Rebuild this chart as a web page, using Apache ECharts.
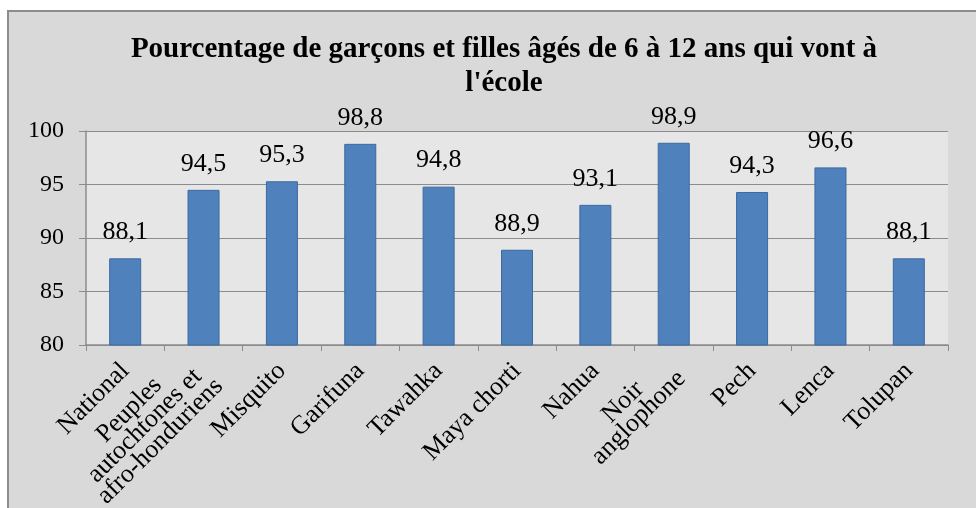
<!DOCTYPE html>
<html>
<head>
<meta charset="utf-8">
<script src="https://cdn.jsdelivr.net/npm/echarts@6/dist/echarts.min.js"></script>
<style>
  html, body { margin: 0; padding: 0; background: #fff; }
  #chart { width: 976px; height: 508px; }
</style>
</head>
<body>
<div id="chart"></div>
<script>
const categories = [
  'National',
  'Peuples\nautochtones et\nafro-honduriens',
  'Misquito',
  'Garifuna',
  'Tawahka',
  'Maya chorti',
  'Nahua',
  'Noir\nanglophone',
  'Pech',
  'Lenca',
  'Tolupan'
];
const values = [88.1, 94.5, 95.3, 98.8, 94.8, 88.9, 93.1, 98.9, 94.3, 96.6, 88.1];
const titleText = "Pourcentage de garçons et filles âgés de 6 à 12 ans qui vont à\nl'école";

const serif = '"Liberation Serif", "Times New Roman", serif';
const chart = echarts.init(document.getElementById('chart'));

chart.setOption({
  backgroundColor: '#ffffff',
  animation: false,
  graphic: [
    {
      type: 'rect',
      z: -10,
      shape: { x: 8, y: 11, width: 1000, height: 520 },
      style: { fill: '#d9d9d9', stroke: '#8c8c8c', lineWidth: 2 }
    }
  ],
  title: {
    text: titleText,
    left: 499,
    top: 28,
    textAlign: 'center',
    textStyle: {
      fontFamily: serif,
      fontWeight: 'bold',
      fontSize: 29,
      lineHeight: 34,
      color: '#000'
    }
  },
  grid: {
    left: 86, top: 131, width: 862, height: 214,
    outerBoundsMode: 'none',
    containLabel: false,
    show: true, backgroundColor: '#e6e6e6', borderWidth: 0
  },
  xAxis: {
    type: 'category',
    data: categories,
    axisLine: { lineStyle: { color: '#8c8c8c', width: 1.5 } },
    axisTick: { show: true, alignWithLabel: false, length: 6, lineStyle: { color: '#8c8c8c' } },
    axisLabel: {
      interval: 0,
      rotate: 45,
      margin: 22,
      color: '#000',
      fontFamily: serif,
      fontSize: 26,
      lineHeight: 22,
      formatter: v => v.split('\n').map(s => '{c|' + s + '}').join('\n'),
      rich: { c: { align: 'center', fontFamily: serif, fontSize: 26, lineHeight: 22 } }
    }
  },
  yAxis: {
    type: 'value',
    min: 80, max: 100, interval: 5,
    axisLine: { show: true, lineStyle: { color: '#8c8c8c', width: 1.5 } },
    axisTick: { show: true, length: 7, lineStyle: { color: '#8c8c8c' } },
    splitLine: { lineStyle: { color: '#8c8c8c', width: 1 } },
    axisLabel: { color: '#000', fontFamily: serif, fontSize: 24, margin: 22 }
  },
  series: [{
    type: 'bar',
    data: values,
    barWidth: 32,
    itemStyle: { color: '#4f81bd', borderColor: '#3b6aa0', borderWidth: 1 },
    label: {
      show: true,
      position: 'top',
      distance: 13,
      color: '#000',
      fontFamily: serif,
      fontSize: 26,
      formatter: p => String(p.value).replace('.', ',')
    }
  }]
});
</script>
</body>
</html>
